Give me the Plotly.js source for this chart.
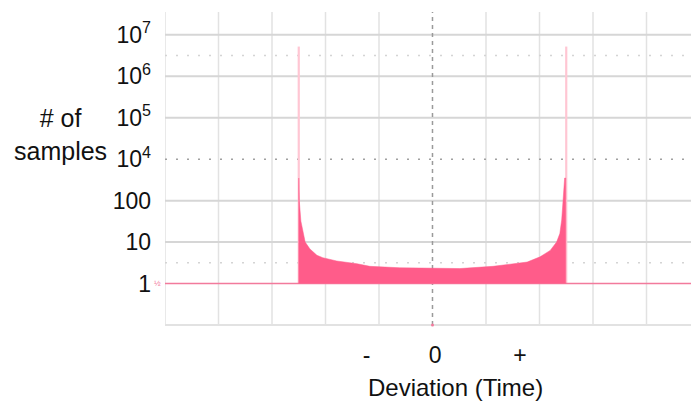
<!DOCTYPE html>
<html>
<head>
<meta charset="utf-8">
<script src="https://cdn.plot.ly/plotly-3.0.1.min.js"></script>
<style>html,body{margin:0;padding:0;background:#fff;}#chart{width:691px;height:402px;}</style>
</head>
<body>
<div id="chart"></div>
<script>
// Deviation axis, in grid divisions (0 = centre)
const histX = [-2.50, -2.49, -2.46, -2.42, -2.38, -2.29, -2.16, -2.05, -1.79, -1.41, -1.17, -0.61, 0.00, 0.51, 1.13, 1.77, 2.01, 2.20, 2.32, 2.38, 2.415, 2.445, 2.47, 2.49];
// sample counts (in axis units of the chart's log scale)
const histY = [350, 100, 32, 16, 10, 6.8, 4.8, 4.2, 3.5, 3.0, 2.6, 2.4, 2.3, 2.3, 2.6, 3.3, 4.4, 6.3, 10, 16, 34, 120, 350, 350];
// the two tall spikes at the edges of the distribution
const spikeX = [-2.5, 2.5];
const spikeY = [5.2e5, 5.2e5];
// floor value (empty bins)
const floorY = 1;
// tick labels
const yTickVals = [1, 10, 100, 1000, 1e4, 1e5, 1e6];
const yTickText = ['1', '10', '100', '10<sup>4</sup>', '10<sup>5</sup>', '10<sup>6</sup>', '10<sup>7</sup>'];
const xTickVals = [-1.23, 0.05, 1.635];
const xTickText = ['-', '0', '+'];

const X_MIN = -5, X_MAX = 4.832;
const Y_LOG_MIN = -1.0, Y_LOG_MAX = 6.55;
const yFrac = v => (Math.log10(v) - Y_LOG_MIN) / (Y_LOG_MAX - Y_LOG_MIN);

const FONT = 'Liberation Sans, Arial, sans-serif';
const TEXT = '#111111';
const PINK_FILL = '#ff5c8a';
const PINK_LINE = '#f27a9c';
const PINK_SPIKE = '#ffc6d3';
const GRID = '#e2e2e2';
const HGRID = '#d6d6d6';

const shapes = [];
// vertical grid lines
for (let i = -5; i <= 4; i++) {
  if (i === 0) continue;
  shapes.push({type: 'line', layer: 'below', xref: 'x', yref: 'paper', x0: i, x1: i, y0: 0, y1: 1,
    line: {color: GRID, width: 1.5}});
}
// horizontal solid grid lines at the labelled decades
[10, 100, 1e4, 1e5, 1e6].forEach(v => {
  shapes.push({type: 'line', layer: 'below', xref: 'x', yref: 'paper', x0: X_MIN, x1: X_MAX, y0: yFrac(v), y1: yFrac(v),
    line: {color: HGRID, width: 2}});
});
// centre dotted line
shapes.push({type: 'line', layer: 'below', xref: 'x', yref: 'paper', x0: 0, x1: 0, y0: 0, y1: 1,
  line: {color: '#9a9a9a', width: 1.5, dash: '4px,4px'}});
// bottom border
shapes.push({type: 'line', layer: 'below', xref: 'x', yref: 'paper', x0: X_MIN, x1: X_MAX, y0: 0, y1: 0,
  line: {color: GRID, width: 2}});
// dotted lines
[[Math.pow(10, 5.5), '#d4d4d4'], [1000, '#a0a0a0'], [Math.pow(10, 0.5), '#d4d4d4']].forEach(([v, c]) => {
  shapes.push({type: 'line', layer: 'below', xref: 'x', yref: 'paper', x0: X_MIN, x1: X_MAX, y0: yFrac(v), y1: yFrac(v),
    line: {color: c, width: 1.5, dash: '2px,9px'}});
});
// small pink tick at the foot of the centre line
shapes.push({type: 'circle', layer: 'above', xref: 'x', yref: 'paper', xsizemode: 'pixel', ysizemode: 'pixel',
  xanchor: 0, yanchor: 0, x0: -1.5, x1: 1.5, y0: -1.5, y1: 1.5,
  fillcolor: PINK_LINE, line: {width: 0}});

const traces = [];
// spikes
spikeX.forEach((x, i) => {
  traces.push({x: [x, x], y: [floorY, spikeY[i]], type: 'scatter', mode: 'lines',
    line: {color: PINK_SPIKE, width: 2.2}, hoverinfo: 'skip', showlegend: false});
});
// baseline
traces.push({x: [X_MIN, X_MAX], y: [floorY, floorY], type: 'scatter', mode: 'lines',
  line: {color: PINK_LINE, width: 1.6}, hoverinfo: 'skip', showlegend: false});
// filled histogram
traces.push({
  x: [histX[0]].concat(histX, [histX[histX.length - 1]]),
  y: [floorY].concat(histY, [floorY]),
  type: 'scatter', mode: 'lines', fill: 'toself', fillcolor: PINK_FILL,
  line: {color: PINK_FILL, width: 0.5}, hoverinfo: 'skip', showlegend: false
});

const layout = {
  width: 691, height: 402,
  margin: {l: 165, r: 0, t: 12, b: 77, pad: 0},
  paper_bgcolor: '#ffffff', plot_bgcolor: 'rgba(0,0,0,0)',
  font: {family: FONT, color: TEXT, size: 23},
  showlegend: false,
  xaxis: {
    range: [X_MIN, X_MAX], showgrid: false, zeroline: false, showline: false,
    tickvals: xTickVals, ticktext: xTickText, ticks: '', ticklabelstandoff: 14,
    tickfont: {family: FONT, size: 23, color: TEXT}, fixedrange: true
  },
  yaxis: {
    type: 'log', range: [Y_LOG_MIN, Y_LOG_MAX], showgrid: false,
    zeroline: false, showline: false,
    tickvals: yTickVals, ticktext: yTickText, ticks: '', ticklabelstandoff: 13,
    tickfont: {family: FONT, size: 23, color: TEXT}, fixedrange: true
  },
  shapes: shapes,
  annotations: [
    {text: '# of<br>samples', xref: 'paper', yref: 'paper', x: (60 - 165) / 526, y: yFrac(Math.pow(10, 3.6)),
      xanchor: 'center', yanchor: 'middle', align: 'center', showarrow: false,
      font: {family: FONT, size: 25, color: TEXT}},
    {text: 'Deviation (Time)', xref: 'x', yref: 'paper', x: 0.43, y: -0.2, xanchor: 'center', yanchor: 'middle',
      showarrow: false, font: {family: FONT, size: 24, color: TEXT}},
    {text: '½', xref: 'paper', yref: 'y', x: -0.004, y: 0, xanchor: 'right', yanchor: 'middle',
      showarrow: false, font: {family: FONT, size: 8, color: PINK_LINE}}
  ]
};

Plotly.newPlot('chart', traces, layout, {displayModeBar: false, staticPlot: true});
</script>
</body>
</html>
